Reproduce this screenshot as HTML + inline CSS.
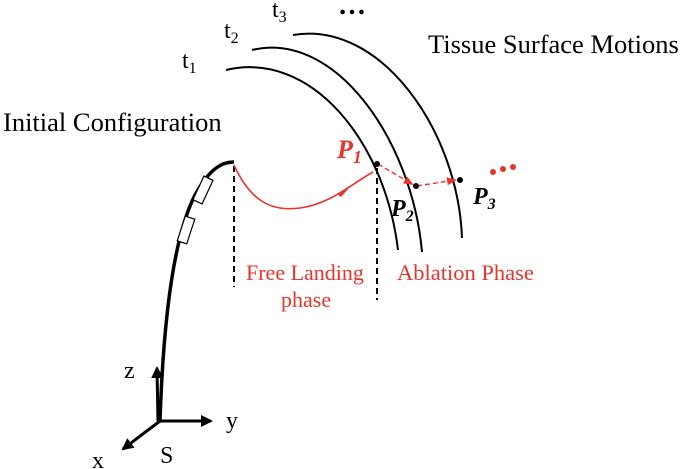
<!DOCTYPE html>
<html><head><style>
html,body{margin:0;padding:0;background:#fff;}
svg{display:block;}
text{font-family:"Liberation Serif",serif;}
</style></head><body>
<svg width="685" height="469" viewBox="0 0 685 469" xmlns="http://www.w3.org/2000/svg">
<defs>
<marker id="ar" markerWidth="10" markerHeight="10" refX="8" refY="5" orient="auto" markerUnits="userSpaceOnUse"><path d="M0,1 L10,5 L0,9 Z" fill="#e8352b"/></marker>
<marker id="ab" markerWidth="12" markerHeight="12" refX="10" refY="6" orient="auto" markerUnits="userSpaceOnUse"><path d="M0,0 L12,6 L0,12 Z" fill="#000"/></marker>
</defs>
<g fill="none" stroke="#000" stroke-width="2">
<path d="M226,70 C310,50 385,140 398,250"/>
<path d="M252,50 C335,30 412,140 422,252"/>
<path d="M293,35 C380,20 458,130 462,238"/>
</g>
<path d="M160,421 C163,330 172,240 195,195 C210,168 222,162 234,162" fill="none" stroke="#000" stroke-width="3.5"/>
<g fill="#fff" stroke="#000" stroke-width="1.2">
<rect x="-5" y="-13" width="10" height="26" transform="translate(203,190) rotate(25)"/>
<rect x="-5" y="-13" width="10" height="26" transform="translate(186,230) rotate(18)"/>
</g>
<g stroke="#000" stroke-width="3" fill="none">
<line x1="159" y1="421" x2="211" y2="421" marker-end="url(#ab)"/>
<line x1="158" y1="421" x2="157" y2="368" marker-end="url(#ab)"/>
<line x1="160" y1="421" x2="123" y2="449" marker-end="url(#ab)"/>
</g>
<g stroke="#000" stroke-width="2" stroke-dasharray="6,4">
<line x1="234" y1="166" x2="234" y2="287"/>
<line x1="377" y1="168" x2="377" y2="300"/>
</g>
<path d="M234,165 C250,200 270,212 300,208 C330,204 350,185 373,172" fill="none" stroke="#e8352b" stroke-width="1.6"/>
<path d="M337,194 L349,188 L341,197 Z" fill="#e8352b"/>
<path d="M378,164 L412,184" stroke="#e8352b" stroke-width="1.4" stroke-dasharray="5,3" fill="none" marker-end="url(#ar)"/>
<path d="M417,186 L455,180" stroke="#e8352b" stroke-width="1.4" stroke-dasharray="5,3" fill="none" marker-end="url(#ar)"/>
<g fill="#e8352b"><circle cx="493" cy="172" r="3"/><circle cx="503" cy="169" r="3"/><circle cx="513" cy="167" r="3"/></g>
<g fill="#000"><circle cx="377" cy="164" r="3"/><circle cx="416" cy="186" r="3"/><circle cx="460" cy="180" r="3"/></g>
<text x="182" y="68" font-size="24">t<tspan font-size="16" dy="5">1</tspan></text>
<text x="224" y="38" font-size="24">t<tspan font-size="16" dy="5">2</tspan></text>
<text x="272" y="17" font-size="24">t<tspan font-size="16" dy="5">3</tspan></text>
<text x="338" y="14" font-size="28" font-weight="bold">…</text>
<text x="428" y="53" font-size="26.5">Tissue Surface Motions</text>
<text x="3" y="131" font-size="26.5">Initial Configuration</text>
<text x="337" y="158" font-size="26" font-weight="bold" font-style="italic" fill="#e8352b">P<tspan font-size="18" dy="5">1</tspan></text>
<text x="391" y="216" font-size="24" font-weight="bold" font-style="italic">P<tspan font-size="16" dy="5">2</tspan></text>
<text x="473" y="204" font-size="24" font-weight="bold" font-style="italic">P<tspan font-size="16" dy="5">3</tspan></text>
<text x="246" y="280" font-size="22" fill="#e8352b">Free Landing</text>
<text x="281" y="307" font-size="22" fill="#e8352b">phase</text>
<text x="397" y="280" font-size="22.5" fill="#e8352b">Ablation Phase</text>
<text x="124" y="378" font-size="24">z</text>
<text x="226" y="428" font-size="24">y</text>
<text x="92" y="468" font-size="24">x</text>
<text x="160" y="463" font-size="24">S</text>
</svg>
</body></html>
